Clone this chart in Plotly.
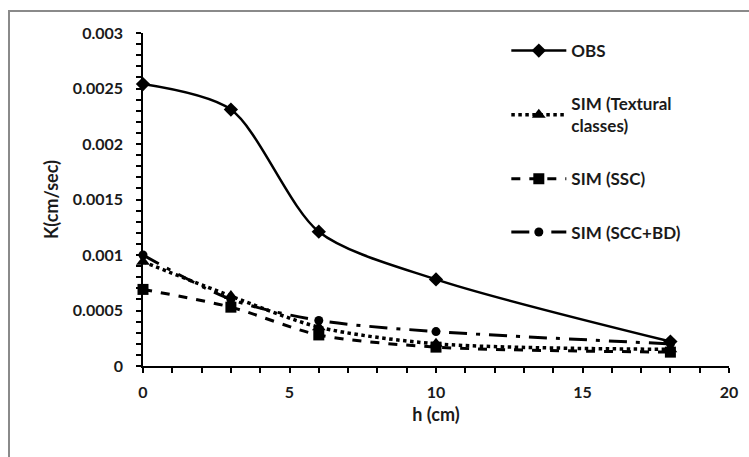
import plotly.graph_objects as go

h = [0, 3, 6, 10, 18]
obs = [0.00254, 0.00231, 0.00121, 0.00078, 0.00022]
sim_textural = [0.00094, 0.00063, 0.00035, 0.00020, 0.00015]
sim_ssc = [0.00069, 0.00053, 0.00028, 0.00017, 0.000125]
sim_sccbd = [0.00100, 0.00060, 0.00041, 0.00031, 0.00020]

names = ["OBS", "SIM (Textural<br>classes)", "SIM (SSC)", "SIM (SCC+BD)"]
y_ticks = [0, 0.0005, 0.001, 0.0015, 0.002, 0.0025, 0.003]
y_ticktext = ["0", "0.0005", "0.001", "0.0015", "0.002", "0.0025", "0.003"]
x_ticks = [0, 5, 10, 15, 20]

FONT = "Lato"
TXT = "#1a1a1a"
fig = go.Figure()

styles = [
    (obs, names[0], "solid", 2.5, "diamond", 11),
    (sim_textural, names[1], "dot", 3.5, "triangle-up", 12),
    (sim_ssc, names[2], "dash", 3, "square", 11),
    (sim_sccbd, names[3], "18px,9px,4px,9px", 3, "circle", 9),
]
for i, (vals, nm, dash, w, sym, ms) in enumerate(styles):
    fig.add_trace(go.Scatter(
        x=h, y=vals, name=nm, mode="lines+markers",
        line=dict(color="black", width=w, dash=dash, shape="spline", smoothing=0.8),
        marker=dict(symbol=sym, size=ms, color="black"),
        cliponaxis=False, legendgroup=str(i),
    ))

fig.update_layout(
    width=749, height=457,
    margin=dict(l=143, r=20, t=33, b=91),
    paper_bgcolor="white", plot_bgcolor="white",
    font=dict(family=FONT, size=16, color=TXT, weight="bold"),
    showlegend=True,
    legend=dict(x=0.62, y=1.0, xanchor="left", yanchor="top",
                tracegroupgap=28, itemwidth=55,
                font=dict(family=FONT, size=17, color=TXT, weight="bold"),
                bgcolor="rgba(0,0,0,0)"),
    xaxis=dict(range=[0, 20], tickvals=x_ticks, showgrid=False, zeroline=False,
               showline=True, linecolor="black", linewidth=1.5,
               ticks="outside", ticklen=5, tickwidth=1.5, tickcolor="black",
               ticklabelstandoff=6,
               minor=dict(dtick=1, ticks="outside", ticklen=5, tickwidth=1.5, tickcolor="black"),
               title=dict(text="h (cm)", standoff=8,
                          font=dict(family=FONT, size=18, color=TXT, weight="bold")),
               tickfont=dict(family=FONT, size=16, color=TXT, weight="bold")),
    yaxis=dict(range=[0, 0.003], tickvals=y_ticks, ticktext=y_ticktext,
               showgrid=False, zeroline=False,
               showline=True, linecolor="black", linewidth=1.5,
               ticks="outside", ticklen=5, tickwidth=1.5, tickcolor="black",
               ticklabelstandoff=10,
               minor=dict(dtick=0.0001, ticks="outside", ticklen=5, tickwidth=1.5, tickcolor="black"),
               title=dict(text="K(cm/sec)", standoff=10,
                          font=dict(family=FONT, size=18, color=TXT, weight="bold")),
               tickfont=dict(family=FONT, size=16, color=TXT, weight="bold")),
)

# outer chart border
fig.add_shape(type="rect", xref="paper", yref="paper",
              x0=(9 - 143) / 586, x1=(760 - 143) / 586,
              y0=(366 - 470) / 333, y1=(366 - 11) / 333,
              line=dict(color="#8a8a8a", width=2), fillcolor="rgba(0,0,0,0)", layer="below")

fig.write_html("out.html")
